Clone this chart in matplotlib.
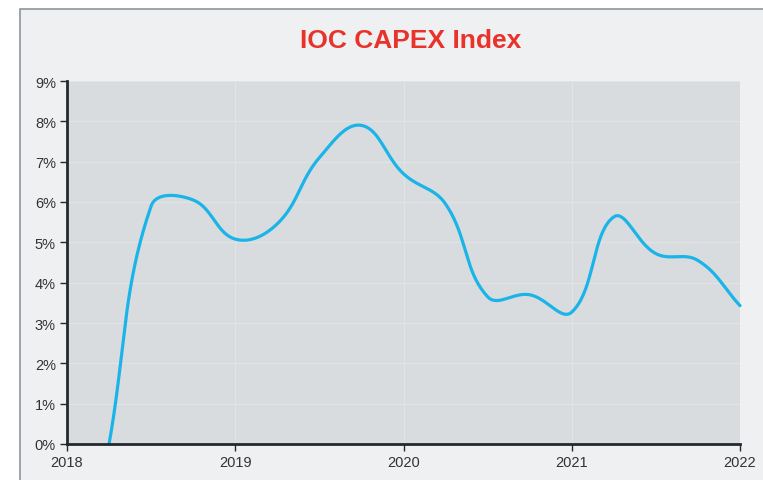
import numpy as np
import matplotlib
matplotlib.use("Agg")
import matplotlib.pyplot as plt
from matplotlib.patches import Rectangle

plt.rcParams["font.family"] = ["Liberation Sans", "DejaVu Sans"]

# quarterly index values (%)
quarters = [2018.25, 2018.5, 2018.75, 2019.0, 2019.25, 2019.5, 2019.75, 2020.0,
            2020.25, 2020.5, 2020.75, 2021.0, 2021.25, 2021.5, 2021.75, 2022.0]
capex = [0.0, 5.9, 6.05, 5.08, 5.46, 7.1, 7.9, 6.7,
         5.95, 3.65, 3.7, 3.27, 5.63, 4.72, 4.55, 3.43]
year_ticks = [2018, 2019, 2020, 2021, 2022]
pct_ticks = list(range(0, 10))

# pixels per unit, used so the smoothing behaves like it does on screen
PX_YEAR = 168.25
PX_PCT = 40.33


def spline_path(xs, ys, tension=0.4, n=40):
    """Cardinal-style bezier smoothing through the points (Chart.js-like)."""
    p = np.column_stack([np.asarray(xs, float) * PX_YEAR,
                         np.asarray(ys, float) * PX_PCT])
    m = len(p)
    c_prev = p.copy()
    c_next = p.copy()
    for i in range(m):
        prev = p[max(i - 1, 0)]
        nxt = p[min(i + 1, m - 1)]
        d01 = np.hypot(*(p[i] - prev))
        d12 = np.hypot(*(nxt - p[i]))
        tot = d01 + d12
        s01 = d01 / tot if tot else 0
        s12 = d12 / tot if tot else 0
        c_prev[i] = p[i] - tension * s01 * (nxt - prev)
        c_next[i] = p[i] + tension * s12 * (nxt - prev)
    t = np.linspace(0, 1, n)[:, None]
    out = []
    for i in range(m - 1):
        p0, p1, p2, p3 = p[i], c_next[i], c_prev[i + 1], p[i + 1]
        seg = ((1 - t) ** 3) * p0 + 3 * ((1 - t) ** 2) * t * p1 \
            + 3 * (1 - t) * t ** 2 * p2 + t ** 3 * p3
        out.append(seg if i == 0 else seg[1:])
    pts = np.vstack(out)
    return pts[:, 0] / PX_YEAR, pts[:, 1] / PX_PCT


fig = plt.figure(figsize=(7.63, 4.81), dpi=100, facecolor="white")
fig.patches.append(Rectangle((20 / 763, -0.05), 1.0, 1 - 10 / 481 + 0.05,
                             transform=fig.transFigure, facecolor="#eff0f2",
                             edgecolor="#8c959d", lw=1.2, zorder=-1))

ax = fig.add_axes([67 / 763, 36 / 481, 673 / 763, 363 / 481])
ax.set_facecolor("#d9dcdf")

sx, sy = spline_path(quarters, capex)
ax.plot(sx, sy, color="#1ab4e8", lw=2.3, solid_capstyle="round", zorder=3,
        clip_on=False)

ax.set_xlim(2018, 2022)
ax.set_ylim(0, 9)
ax.set_xticks(year_ticks)
ax.set_xticklabels([str(y) for y in year_ticks])
ax.set_yticks(pct_ticks)
ax.set_yticklabels([f"{p}%" for p in pct_ticks])

ax.grid(True, color="#e1e4e7", lw=0.8)
ax.set_axisbelow(True)
for s in ["top", "right"]:
    ax.spines[s].set_visible(False)
for s in ["left", "bottom"]:
    ax.spines[s].set_color("#24282c")
    ax.spines[s].set_linewidth(2)
    ax.spines[s].set_zorder(4)
ax.tick_params(length=5, width=1, color="#24282c", labelcolor="#333333",
               labelsize=10.5, pad=3)

fig.text(411 / 763, 1 - 41 / 481, "IOC CAPEX Index", ha="center", va="center",
         fontsize=19, fontweight="bold", color="#e8322a")

fig.savefig("out.png", dpi=100, facecolor=fig.get_facecolor())
